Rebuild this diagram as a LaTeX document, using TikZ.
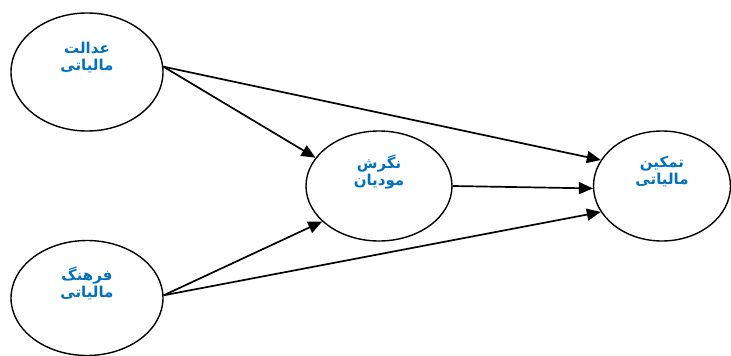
\documentclass[tikz,border=0pt]{standalone}
\usepackage{fontspec}
\newfontfamily\arabicfont[Script=Arabic]{DejaVu Sans}
\TeXXeTstate=1
\usetikzlibrary{arrows.meta,shapes.geometric}
\definecolor{txtblue}{HTML}{0070C0}
\newcommand{\twoline}[2]{\raisebox{10pt}[0pt][0pt]{\def\arraystretch{0.9}\begin{tabular}{@{}c@{}}\beginR #1\endR\\\beginR #2\endR\end{tabular}}}
\tikzset{
  var/.style={ellipse, draw=black, line width=1.4pt, inner sep=0pt, align=center,
    font=\arabicfont\bfseries\fontsize{15}{19}\selectfont, text=txtblue},
  arr/.style={line width=1.7pt, -{Triangle[length=14pt,width=12pt]}}
}
\begin{document}
\begin{tikzpicture}[x=1pt,y=-1pt]
\useasboundingbox (0,0) rectangle (731,356);
\node[var, minimum width=152pt, minimum height=118pt] (A) at (87,72) {\twoline{عدالت}{مالیاتی}};
\node[var, minimum width=152pt, minimum height=115pt] (B) at (87,298) {\twoline{فرهنگ}{مالیاتی}};
\node[var, minimum width=146pt, minimum height=110pt] (C) at (379,186) {\twoline{نگرش}{مودیان}};
\node[var, minimum width=137pt, minimum height=110pt] (D) at (662,186) {\twoline{تمکین}{مالیاتی}};
\draw[arr] (A.4) -- (C.156);
\draw[arr] (A.4) -- (D.157);
\draw[arr] (C.east) -- (D.182);
\draw[arr] (B.2) -- (C.212);
\draw[arr] (B.2) -- (D.203);
\end{tikzpicture}
\end{document}
